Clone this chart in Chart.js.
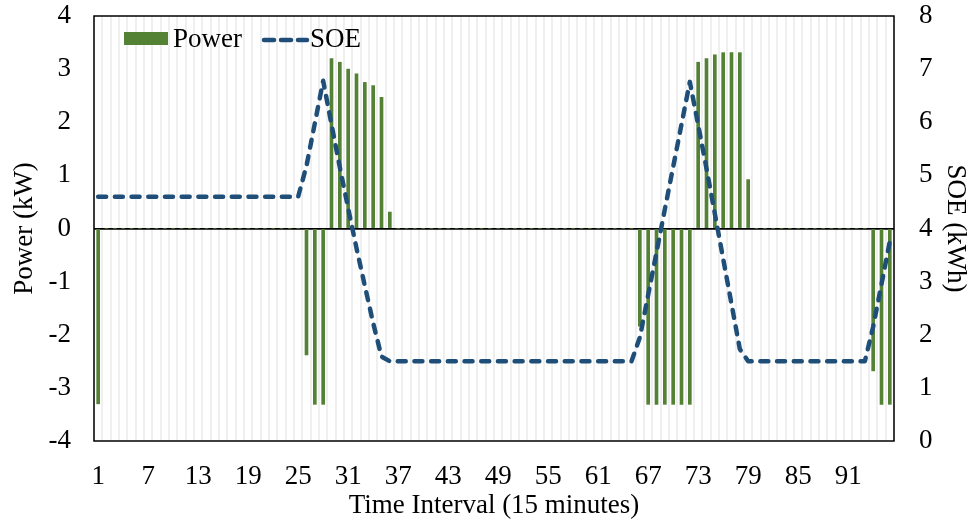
<!DOCTYPE html>
<html>
<head>
<meta charset="utf-8">
<script src="https://cdn.jsdelivr.net/npm/chart.js@4.4.0/dist/chart.umd.min.js"></script>
<style>
html,body{margin:0;padding:0;background:#fff;}
#wrap{width:972px;height:522px;}
</style>
</head>
<body>
<div id="wrap"><canvas id="c" width="972" height="522"></canvas></div>
<script>
const categories = [
  1,2,3,4,5,6,7,8,9,10,11,12,
  13,14,15,16,17,18,19,20,21,22,23,24,
  25,26,27,28,29,30,31,32,33,34,35,36,
  37,38,39,40,41,42,43,44,45,46,47,48,
  49,50,51,52,53,54,55,56,57,58,59,60,
  61,62,63,64,65,66,67,68,69,70,71,72,
  73,74,75,76,77,78,79,80,81,82,83,84,
  85,86,87,88,89,90,91,92,93,94,95,96
];
const tickLabels = ['1','7','13','19','25','31','37','43','49','55','61','67','73','79','85','91'];
const power = [
  -3.3,0,0,0,0,0,0,0,0,0,0,0,
  0,0,0,0,0,0,0,0,0,0,0,0,
  0,-2.38,-3.31,-3.31,3.20,3.13,3.00,2.91,2.75,2.69,2.47,0.31,
  0,0,0,0,0,0,0,0,0,0,0,0,
  0,0,0,0,0,0,0,0,0,0,0,0,
  0,0,0,0,0,-1.84,-3.31,-3.31,-3.31,-3.31,-3.31,-3.31,
  3.13,3.20,3.27,3.31,3.31,3.31,0.92,0,0,0,0,0,
  0,0,0,0,0,0,0,0,0,-2.68,-3.31,-3.31
];
const soe = [
  4.6,4.6,4.6,4.6,4.6,4.6,4.6,4.6,4.6,4.6,4.6,4.6,
  4.6,4.6,4.6,4.6,4.6,4.6,4.6,4.6,4.6,4.6,4.6,4.6,
  4.6,5.18,5.98,6.78,5.96,5.15,4.38,3.63,2.92,2.22,1.59,1.5,
  1.5,1.5,1.5,1.5,1.5,1.5,1.5,1.5,1.5,1.5,1.5,1.5,
  1.5,1.5,1.5,1.5,1.5,1.5,1.5,1.5,1.5,1.5,1.5,1.5,
  1.5,1.5,1.5,1.5,1.5,1.95,2.75,3.55,4.36,5.16,5.96,6.76,
  5.95,5.13,4.28,3.43,2.58,1.73,1.5,1.5,1.5,1.5,1.5,1.5,
  1.5,1.5,1.5,1.5,1.5,1.5,1.5,1.5,1.5,2.15,2.95,3.76
];
const seriesNames = ['Power', 'SOE'];
const xTitle = 'Time Interval (15 minutes)';
const yTitle = 'Power (kW)';
const y1Title = 'SOE (kWh)';

const GREEN = '#548235';
const BLUE = '#1F4E79';
const FONT = "'Liberation Serif', 'Times New Roman', serif";
const FS = 27;

const framePlugin = {
  id: 'frame',
  beforeDatasetsDraw(chart) {
    const {ctx, chartArea: a} = chart;
    ctx.save();
    ctx.strokeStyle = '#000';
    ctx.lineWidth = 1.5;
    ctx.strokeRect(a.left, a.top, a.right - a.left, a.bottom - a.top);
    ctx.restore();
  },
  afterDraw(chart) {
    const {ctx, chartArea: a} = chart;
    ctx.save();
    const x0 = a.left + 30;
    const base = a.top + 30.5;
    ctx.fillStyle = GREEN;
    ctx.fillRect(x0, a.top + 16, 44, 13);
    ctx.font = FS + 'px ' + FONT;
    ctx.fillStyle = '#000';
    ctx.textBaseline = 'alphabetic';
    ctx.textAlign = 'left';
    ctx.fillText(seriesNames[0], x0 + 49, base);
    ctx.strokeStyle = BLUE;
    ctx.lineWidth = 4.5;
    ctx.lineCap = 'round';
    const ly = a.top + 24;
    [[x0 + 140, x0 + 150], [x0 + 157, x0 + 167], [x0 + 174, x0 + 183]].forEach(s => {
      ctx.beginPath(); ctx.moveTo(s[0], ly); ctx.lineTo(s[1], ly); ctx.stroke();
    });
    ctx.fillText(seriesNames[1], x0 + 186, base);
    ctx.restore();
  }
};

function fixV(w) {
  return function(s) { s.width = w; s.paddingTop = 0; s.paddingBottom = 0; };
}

new Chart(document.getElementById('c'), {
  data: {
    labels: categories,
    datasets: [
      {
        type: 'line',
        label: seriesNames[1],
        data: soe,
        yAxisID: 'y1',
        borderColor: BLUE,
        borderWidth: 4.5,
        borderDash: [8, 8.7],
        borderCapStyle: 'round',
        borderJoinStyle: 'round',
        pointRadius: 0,
        tension: 0,
        fill: false,
        order: 0
      },
      {
        type: 'bar',
        label: seriesNames[0],
        data: power,
        yAxisID: 'y',
        backgroundColor: GREEN,
        barThickness: 3,
        order: 1
      }
    ]
  },
  options: {
    responsive: false,
    animation: false,
    devicePixelRatio: 1,
    layout: {padding: {top: 16, left: 0, right: 0, bottom: 0}},
    plugins: {legend: {display: false}, tooltip: {enabled: false}},
    scales: {
      x: {
        type: 'category',
        offset: true,
        grid: {display: true, offset: true, color: '#efefef', lineWidth: 2, drawTicks: false},
        border: {display: false},
        ticks: {
          autoSkip: false, maxRotation: 0, minRotation: 0, padding: 20,
          color: '#000', font: {family: FONT, size: FS},
          callback: function(v, i) {
            const s = String(categories[i]);
            return tickLabels.includes(s) ? s : '';
          }
        },
        title: {display: true, text: xTitle, color: '#000', font: {family: FONT, size: FS}, padding: {top: 0, bottom: 0}},
        afterFit(s) { s.height = 81; s.paddingLeft = 0; s.paddingRight = 0; }
      },
      y: {
        position: 'left',
        min: -4, max: 4,
        grid: {
          drawTicks: false,
          color: c => (c.tick && c.tick.value === 0 ? '#000' : 'rgba(0,0,0,0)'),
          lineWidth: c => (c.tick && c.tick.value === 0 ? 1.8 : 0)
        },
        border: {display: false},
        ticks: {stepSize: 1, padding: 23, color: '#000', font: {family: FONT, size: FS}},
        title: {display: true, text: yTitle, color: '#000', font: {family: FONT, size: FS}, padding: {top: 9, bottom: 0}},
        afterFit: fixV(94)
      },
      y1: {
        position: 'right',
        min: 0, max: 8,
        grid: {display: false, drawTicks: false},
        border: {display: false},
        ticks: {stepSize: 1, padding: 25, color: '#000', font: {family: FONT, size: FS}},
        title: {display: true, text: y1Title, color: '#000', font: {family: FONT, size: FS}, padding: {top: 1, bottom: 0}},
        afterFit: fixV(78)
      }
    }
  },
  plugins: [framePlugin]
});
</script>
</body>
</html>
